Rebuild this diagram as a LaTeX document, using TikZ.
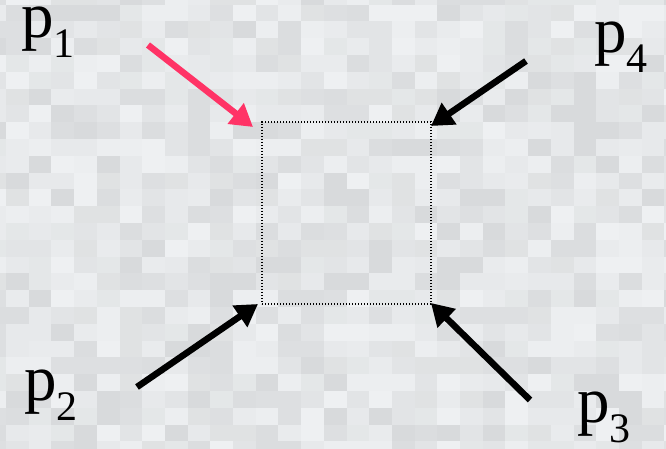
\documentclass[tikz,border=0pt]{standalone}
\usepackage{fontspec}
\setmainfont{Liberation Serif}
\newfontfamily\labfont{Liberation Serif}
\usetikzlibrary{arrows.meta}
\definecolor{bgbase}{RGB}{238,240,242}
\definecolor{arrowred}{RGB}{255,51,102}
\tikzset{
  lbl/.style={anchor=base west, inner sep=0pt, text height=29pt, text depth=21pt, font=\labfont\fontsize{65}{65}\selectfont},
  force/.style={line width=6.5pt, -{Triangle[length=22pt,width=25pt]}},
  framebox/.style={draw, line width=1.2pt, dash pattern=on 1.2pt off 1.8pt, minimum width=169pt, minimum height=182pt, inner sep=0pt}
}
\newcommand{\lab}[1]{p\raisebox{-20pt}{\labfont\fontsize{42}{42}\selectfont #1}}
\begin{document}
\begin{tikzpicture}[x=1pt,y=-1pt]
\useasboundingbox (0,0) rectangle (666,449);
% pixelated background
\pgfmathsetseed{7}
\fill[bgbase] (0,0) rectangle (666,449);
\foreach \i in {-1,...,29}{
  \foreach \j in {-1,...,26}{
    \pgfmathrandominteger{\g}{0}{9}
    \fill[black!\g!bgbase] ({6+\i*22.7},{4.6+\j*16.8}) rectangle ({6+(\i+1)*22.7},{4.6+(\j+1)*16.8});
  }
}
% frame
\node[framebox] (box) at (346.5,213) {};
% labels
\node[lbl] (p1) at (21,38) {\lab{1}};
\node[lbl] (p4) at (594,53) {\lab{4}};
\node[lbl] (p2) at (24,400) {\lab{2}};
\node[lbl] (p3) at (577,422) {\lab{3}};
% arrow ends
\coordinate (s1) at (148,45);  \coordinate (t1) at (253,127);
\coordinate (s4) at (526,61);  \coordinate (t4) at (431,126);
\coordinate (s2) at (137,387); \coordinate (t2) at (258,304);
\coordinate (s3) at (530,400); \coordinate (t3) at (431,303);
\draw[force, arrowred] (s1) -- (t1);
\draw[force, black] (s4) -- (t4);
\draw[force, black] (s2) -- (t2);
\draw[force, black] (s3) -- (t3);
\end{tikzpicture}
\end{document}
